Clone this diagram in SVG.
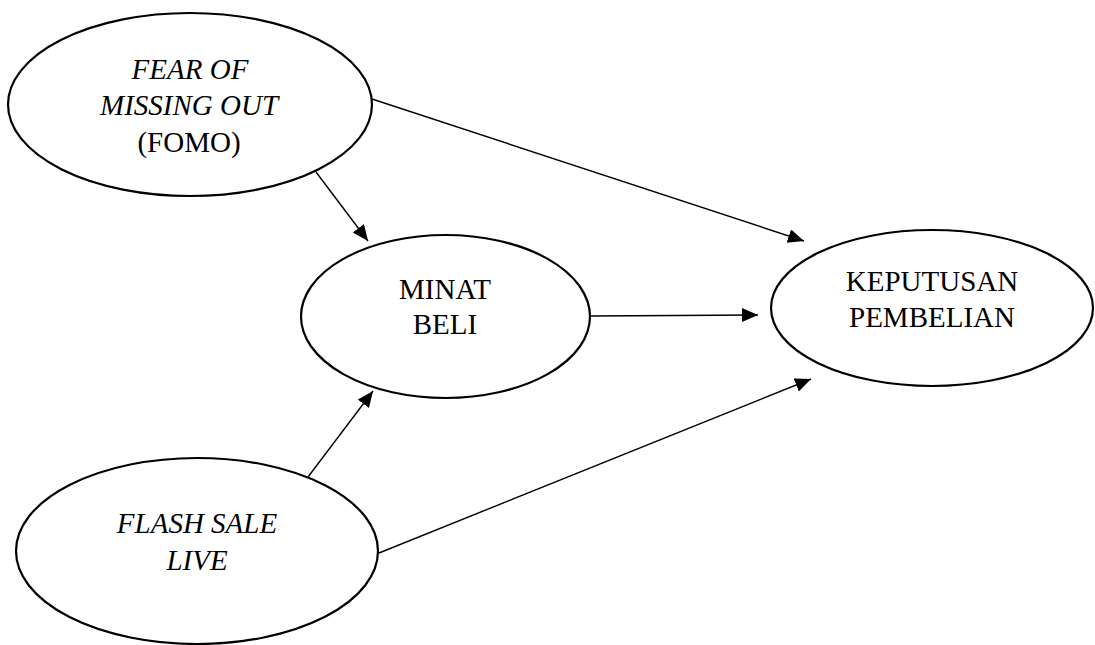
<svg xmlns="http://www.w3.org/2000/svg" width="1095" height="645" viewBox="0 0 1095 645">
<style>
.node{fill:#fff;stroke:#000;stroke-width:2.2}
.t{font-family:"Liberation Serif","Times New Roman",serif;font-size:29px;fill:#000;text-anchor:middle}
.i{font-style:italic}
.c{stroke:#000;stroke-width:1.4;fill:none;marker-end:url(#ah)}
</style>
<defs>
<marker id="ah" markerUnits="userSpaceOnUse" markerWidth="17" markerHeight="15" refX="16" refY="7" orient="auto">
<path d="M0,0 L16,7 L0,14 z" fill="#000"/>
</marker>
</defs>
<rect width="1095" height="645" fill="#fff"/>
<g id="connectors">
<line class="c" x1="316" y1="172" x2="368" y2="241"/>
<line class="c" x1="372" y1="99" x2="804" y2="241"/>
<line class="c" x1="591" y1="316" x2="758" y2="315"/>
<line class="c" x1="308" y1="477" x2="373" y2="391"/>
<line class="c" x1="379" y1="553" x2="811" y2="379"/>
</g>
<g id="fomo">
<ellipse class="node" cx="190" cy="104.5" rx="182" ry="91.5"/>
<text class="t i" x="190" y="79">FEAR OF</text>
<text class="t i" x="189" y="115">MISSING OUT</text>
<text class="t" x="189" y="152">(FOMO)</text>
</g>
<g id="minat">
<ellipse class="node" cx="445.5" cy="316.5" rx="144.5" ry="81.5"/>
<text class="t" x="445" y="299">MINAT</text>
<text class="t" x="445" y="334">BELI</text>
</g>
<g id="keputusan">
<ellipse class="node" cx="932" cy="308" rx="161" ry="78"/>
<text class="t" x="932" y="291">KEPUTUSAN</text>
<text class="t" x="932" y="327">PEMBELIAN</text>
</g>
<g id="flashsale">
<ellipse class="node" cx="197" cy="551" rx="181" ry="93"/>
<text class="t i" x="197" y="533">FLASH SALE</text>
<text class="t i" x="197" y="570">LIVE</text>
</g>
</svg>
